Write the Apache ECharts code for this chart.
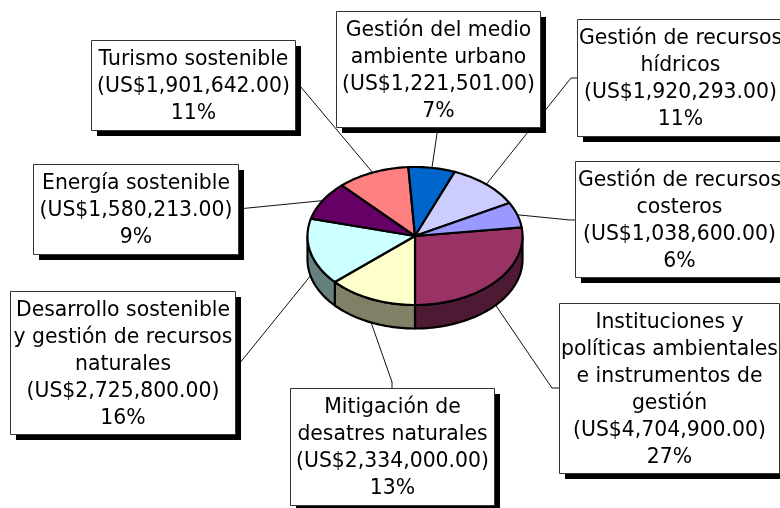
<!DOCTYPE html>
<html>
<head>
<meta charset="utf-8">
<style>html,body{margin:0;padding:0;background:#fff}#c{width:780px;height:508px}</style>
<script src="https://cdn.jsdelivr.net/npm/echarts@6/dist/echarts.min.js"></script>
</head>
<body>
<div id="c"></div>
<script>
// Data, clockwise from the slice that ends at the front of the pie
const categories = [
  'Instituciones y\npolíticas ambientales\ne instrumentos de\ngestión',
  'Mitigación de\ndesatres naturales',
  'Desarrollo sostenible\ny gestión de recursos\nnaturales',
  'Energía sostenible',
  'Turismo sostenible',
  'Gestión del medio\nambiente urbano',
  'Gestión de recursos\nhídricos',
  'Gestión de recursos\ncosteros'
];
const values = [4704900, 2334000, 2725800, 1580213, 1901642, 1221501, 1920293, 1038600];

// Styles
const topColors  = ['#993366', '#FFFFCC', '#CCFFFF', '#660066', '#FF8080', '#0066CC', '#CCCCFF', '#9999FF'];
const sideColors = ['#4D1A33', '#808066', '#668080', '#330033', '#804040', '#003366', '#666680', '#4D4D80'];

// Layout of the pie and of the annotation boxes
const pie = { cx: 415, cy: 236, rx: 107.5, ry: 69, depth: 23.5 };
const boxX = [559, 290, 10, 33, 91, 336, 577, 575];
const boxY = [303, 388, 291, 164, 40, 11, 19, 161];
const boxW = [220, 204, 225, 205, 204, 204, 206, 208];
const boxH = [170, 117, 143, 90, 90, 116, 117, 116];
// Leader line start and elbow next to each box
const leaderStart = [[559,388],[392,388],[235,369],[238,209],[295,80],[438,127],[577,78],[575,220]];
const leaderElbow = [[552,388],[392,382],null,null,null,null,[571,78],[570,220]];

const total = values.reduce((a, b) => a + b, 0);
const rad = d => d * Math.PI / 180;
const frontBoundary = 90;                 // first slice ends at the front
const spans = values.map(v => v / total * 360);
const starts = [];
spans.reduce((acc, s, i) => { starts[i] = acc; return acc + s; }, frontBoundary - spans[0]);

const onTop = (a, dy) => [pie.cx + pie.rx * Math.cos(rad(a)), pie.cy + pie.ry * Math.sin(rad(a)) + (dy || 0)];
function arc(a0, a1, dy) {
  const pts = [], n = Math.max(2, Math.ceil(Math.abs(a1 - a0) / 1.5));
  for (let k = 0; k <= n; k++) pts.push(onTop(a0 + (a1 - a0) * k / n, dy));
  return pts;
}
const edge = { stroke: '#000', lineWidth: 2.2, lineJoin: 'round' };

function renderSlice(params, api) {
  const i = params.dataIndex, a0 = starts[i], a1 = a0 + spans[i];
  const children = [];
  // visible part of the wall: the front half of the rim
  const s0 = Math.max(a0, 0), s1 = Math.min(a1, 180);
  if (s1 > s0) {
    children.push({
      type: 'polygon', shape: { points: arc(s0, s1, 0).concat(arc(s1, s0, pie.depth)) },
      style: Object.assign({ fill: sideColors[i] }, edge)
    });
  }
  children.push({
    type: 'polygon', shape: { points: [[pie.cx, pie.cy]].concat(arc(a0, a1, 0)) },
    style: Object.assign({ fill: topColors[i] }, edge)
  });
  return { type: 'group', children };
}

function renderLeader(params, api) {
  const i = params.dataIndex, mid = starts[i] + spans[i] / 2;
  const sin = Math.sin(rad(mid));
  const anchor = onTop(mid, sin > 0 ? pie.depth : 0);
  const pts = [leaderStart[i]];
  if (leaderElbow[i]) pts.push(leaderElbow[i]);
  pts.push(anchor);
  return { type: 'polyline', shape: { points: pts }, style: { stroke: '#111', lineWidth: 1, fill: 'none' } };
}

const money = v => 'US$' + v.toLocaleString('en-US', { minimumFractionDigits: 2, maximumFractionDigits: 2 });

function renderBox(params, api) {
  const i = params.dataIndex;
  const x = boxX[i] + 0.5, y = boxY[i] + 0.5, w = boxW[i], h = boxH[i];
  const label = categories[i] + '\n(' + money(values[i]) + ')\n' + Math.round(values[i] / total * 100) + '%';
  return {
    type: 'group',
    children: [
      { type: 'rect', shape: { x: x + 5.5, y: y + 5.5, width: w, height: h }, style: { fill: '#000' } },
      { type: 'rect', shape: { x, y, width: w, height: h }, style: { fill: '#fff', stroke: '#333', lineWidth: 1 } },
      { type: 'text', x: x + w / 2, y: y + h / 2 + 1.5, style: {
          text: label, fill: '#000', align: 'center', verticalAlign: 'middle',
          font: '20.4px "DejaVu Sans"', lineHeight: 27
      } }
    ]
  };
}

const seriesData = categories.map((name, i) => ({ name, value: values[i] }));
const chart = echarts.init(document.getElementById('c'), null, { renderer: 'canvas' });
chart.setOption({
  backgroundColor: '#fff',
  animation: false,
  tooltip: { show: false },
  series: [
    { type: 'custom', coordinateSystem: 'none', z: 1, silent: true, renderItem: renderLeader, data: seriesData },
    { type: 'custom', coordinateSystem: 'none', z: 2, silent: true, renderItem: renderSlice, data: seriesData },
    { type: 'custom', coordinateSystem: 'none', z: 3, silent: true, renderItem: renderBox, data: seriesData }
  ]
});
</script>
</body>
</html>
